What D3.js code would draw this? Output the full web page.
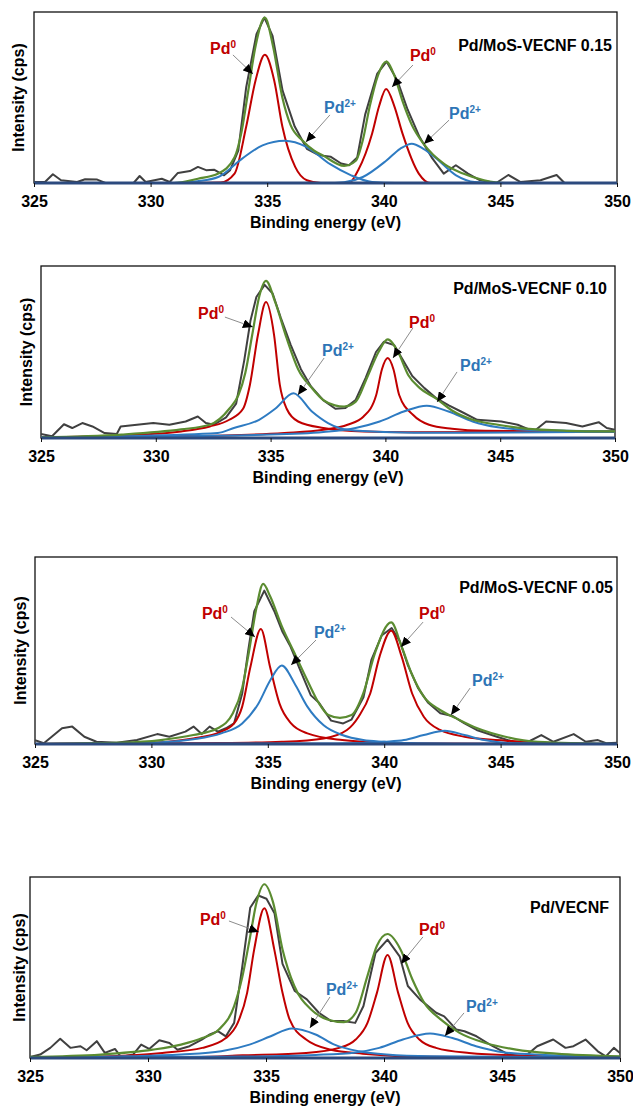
<!DOCTYPE html>
<html>
<head>
<meta charset="utf-8">
<script src="https://cdn.jsdelivr.net/npm/d3@7"></script>
<style>
  body { margin: 0; background: #fff; }
  text { font-family: "Liberation Sans", Arial, sans-serif; font-weight: bold; }
</style>
</head>
<body>
<div id="chart"></div>
<script>
// x axis
var xTicks = [325, 330, 335, 340, 345, 350];
var sampleNames = ['Pd/MoS-VECNF 0.15', 'Pd/MoS-VECNF 0.10', 'Pd/MoS-VECNF 0.05', 'Pd/VECNF'];
var background = [[325, 0], [350, 0]];

// ---- Pd/MoS-VECNF 0.15 ----
var raw015 = [[325, 0.6], [325.47, 0.6], [325.81, 5.1], [326.16, 1.6], [326.85, 0.6], [327.19, 2.2], [327.71, 2], [328.06, 0],
  [329.27, 0], [329.53, 4.1], [329.79, 0.6], [330.48, 2.5], [330.82, 0.6], [331.17, 5.9], [331.69, 7], [332.03, 9.4],
  [332.38, 7.5], [332.72, 7.8], [333.15, 4.5], [333.41, 7.5], [333.76, 19], [334.1, 56], [334.54, 87], [334.88, 96.7],
  [335.23, 86], [335.66, 54], [336.18, 33], [336.7, 20], [337.21, 16.3], [337.73, 15.3], [338.17, 11.4], [338.51, 10.4],
  [338.86, 15], [339.2, 40], [339.72, 64], [340.12, 71], [340.58, 60], [341.02, 43], [341.53, 27], [342.05, 15],
  [342.57, 5.5], [343.09, 10.4], [343.61, 5.5], [344.13, 1.6], [344.82, 0], [345.34, 4.7], [345.85, 0.6], [346.72, 1.6],
  [347.41, 4.7], [347.75, 0], [348.45, 0], [350, 0]];
var fit015 = [[325, 0], [331, 0], [332.03, 2.5], [332.9, 5.5], [333.6, 15], [333.9, 30], [334.2, 55], [334.5, 80],
  [334.9, 96.7], [335.25, 80], [335.65, 50], [336.0, 34], [336.5, 25], [337.0, 19], [337.4, 16], [338.3, 10], [338.8, 13],
  [339.1, 25], [339.4, 45], [339.75, 63], [340.1, 71], [340.45, 63], [340.8, 48], [341.2, 34], [341.7, 23], [342.6, 11],
  [343.4, 5.5], [344.3, 1.6], [345.2, 0], [350, 0]];
var pd0a015 = [[325, 0], [331, 0], [333.0, 0.3], [333.6, 5.5], [334.1, 33], [334.5, 60], [334.9, 75], [335.3, 60],
  [335.65, 33], [336.2, 9.4], [336.7, 1.6], [337.3, 0], [350, 0]];
var pd0b015 = [[325, 0], [338.5, 0], [338.9, 7.5], [339.5, 29], [339.8, 45], [340.1, 55], [340.45, 45], [340.8, 29],
  [341.5, 5.5], [342.0, 0], [350, 0]];
var pd2a015 = [[325, 0], [331, 0], [332.0, 1], [332.9, 3.5], [333.9, 14], [334.8, 22], [335.75, 24.7], [336.7, 21],
  [337.7, 11], [338.6, 4.5], [339.5, 0.6], [340.5, 0], [350, 0]];
var pd2b015 = [[325, 0], [337.5, 0], [338.3, 0.5], [339.1, 3.5], [340.1, 13], [340.7, 20], [341.2, 23], [341.7, 20],
  [342.2, 15], [343.1, 4.5], [343.9, 0.6], [345, 0], [350, 0]];
// annotations: label position, arrow start, arrow tip (eV, intensity)
var notes015 = [
  {sup: '0', kind: 'pd0', lx: 332.55, ly: 79, x1: 333.53, y1: 74.9, x2: 334.39, y2: 63.7},
  {sup: '0', kind: 'pd0', lx: 341.12, ly: 74.9, x1: 341.25, y1: 69, x2: 340.35, y2: 56.1},
  {sup: '2+', kind: 'pd2', lx: 337.44, ly: 44.4, x1: 337.69, y1: 39.8, x2: 336.66, y2: 24},
  {sup: '2+', kind: 'pd2', lx: 342.8, ly: 40.9, x1: 342.8, y1: 36.8, x2: 341.72, y2: 22.8}];

// ---- Pd/MoS-VECNF 0.10 ----
var raw010 = [[325, 2.3], [325.48, 1], [326.0, 8], [326.36, 5.8], [326.8, 8.7], [327.24, 6.7], [327.77, 2.9], [328.3, 2.3],
  [328.47, 6.7], [329.18, 7.7], [329.89, 8.7], [330.59, 7.7], [331.3, 9.6], [331.83, 12.5], [332.18, 8.7], [332.53, 7.7],
  [333.06, 12], [333.5, 20], [333.85, 45], [334.12, 68], [334.38, 82], [334.74, 89], [335.09, 84], [335.44, 70],
  [335.88, 54], [336.32, 40], [336.76, 30], [337.29, 22], [337.82, 17], [338.26, 17.5], [338.7, 22], [339.14, 35],
  [339.59, 50], [339.94, 56], [340.38, 54], [340.82, 44], [341.17, 36], [341.7, 29], [342.23, 23], [342.76, 19],
  [343.29, 15.4], [344.0, 10.6], [345.05, 9.6], [345.76, 7.7], [346.46, 3.8], [347.0, 9.6], [347.87, 8.7], [348.58, 6.7],
  [349.29, 9.2], [349.64, 5.8], [350, 4.8]];
var fit010 = [[325, 0.4], [328.5, 2], [331.1, 5], [332.35, 7.7], [333.2, 17], [333.6, 25], [333.9, 38], [334.2, 60],
  [334.5, 82], [334.8, 91.3], [335.2, 79], [335.7, 58], [336.2, 40], [336.8, 29], [337.3, 22], [337.8, 19], [338.2, 18.3],
  [338.7, 21], [339.2, 35], [339.7, 50], [340.1, 57.3], [340.55, 50], [341.0, 36.5], [341.5, 29], [342.2, 23], [342.9, 16],
  [343.8, 10.6], [344.9, 7.7], [346.1, 5.4], [347.9, 4.2], [350, 3.8]];
var pd0a010 = [[325, 0.4], [328.5, 1.5], [331.1, 3.8], [332.35, 6.7], [333.2, 10.6], [333.8, 17], [334.1, 31], [334.45, 60],
  [334.8, 79], [335.15, 60], [335.4, 31], [335.7, 17], [336.2, 9.6], [337.3, 5.8], [339.05, 3.8], [341, 3.4], [350, 3.6]];
var pd0b010 = [[325, 0.4], [330, 1], [333, 1.5], [335.6, 2.9], [337.3, 4.8], [338.35, 7.7], [339.05, 12.5], [339.6, 25],
  [339.85, 40], [340.1, 46.5], [340.35, 40], [340.6, 25], [341.2, 13.5], [341.9, 7.7], [342.9, 5.4], [344.35, 4.2], [350, 3.8]];
var pd2a010 = [[325, 0.3], [328.5, 1], [332.7, 2.9], [333.4, 5.8], [334.5, 10.6], [335.2, 17], [336.0, 26], [336.8, 15.4],
  [337.5, 8.7], [338.35, 4.8], [339.9, 3.5], [342.6, 3], [350, 3.6]];
var pd2b010 = [[325, 0.3], [335, 2], [337.3, 3.5], [338.7, 5.8], [339.75, 9.6], [340.8, 15.4], [341.8, 18.8], [342.75, 15.4],
  [343.8, 9.6], [344.9, 6.2], [346.1, 4.8], [347.9, 4.2], [350, 3.8]];
var notes010 = [
  {sup: '0', kind: 'pd0', lx: 331.84, ly: 72.7, x1: 333.01, y1: 70.3, x2: 334.23, y2: 64.5},
  {sup: '0', kind: 'pd0', lx: 341.03, ly: 67.4, x1: 341.2, y1: 64, x2: 340.33, y2: 46.5},
  {sup: '2+', kind: 'pd2', lx: 337.24, ly: 51.2, x1: 337.33, y1: 46.5, x2: 336.19, y2: 25},
  {sup: '2+', kind: 'pd2', lx: 343.25, ly: 42.4, x1: 343.12, y1: 38.4, x2: 342.25, y2: 20.9}];

// ---- Pd/MoS-VECNF 0.05 ----
var raw005 = [[325, 2.1], [325.38, 0.4], [326.16, 8.4], [326.6, 9.3], [327.12, 3.9], [327.64, 1.2], [328.51, 0.7], [329.38, 2.1],
  [330.25, 5.3], [330.77, 3.9], [331.46, 6.6], [331.81, 9.3], [332.16, 5.3], [332.5, 9.3], [332.85, 6.6], [333.2, 8.4],
  [333.55, 11], [333.9, 27], [334.16, 50], [334.42, 71], [334.85, 82], [335.28, 71], [335.63, 60], [335.98, 52],
  [336.41, 39], [336.85, 26], [337.2, 22], [337.72, 12.5], [338.24, 11], [338.59, 13], [339.11, 25], [339.45, 45],
  [339.89, 58], [340.32, 62], [340.67, 55], [341.02, 42], [341.45, 30], [341.89, 22], [342.41, 16.4], [342.93, 15],
  [343.45, 11], [343.97, 7.5], [344.84, 3.9], [345.54, 1.2], [346.06, 0.4], [346.75, 4.8], [347.27, 1.2], [348.14, 5.3],
  [348.66, 1.2], [349.18, 2.1], [349.53, 0.4], [350, 0.7]];
var fit005 = [[325, 0], [328.7, 0.7], [330.4, 2.1], [331.8, 4.8], [332.85, 8.4], [333.5, 16.4], [333.9, 30], [334.2, 50],
  [334.5, 72], [334.8, 85.6], [335.1, 79], [335.6, 63], [336.15, 48.5], [336.7, 34], [337.2, 21.7], [337.6, 15.5],
  [338.1, 14], [338.6, 15.5], [339.1, 27], [339.6, 48.5], [340.3, 65], [340.75, 52], [341.2, 37], [341.7, 25.3],
  [342.4, 18.2], [343.1, 13.7], [344.0, 8.4], [345.2, 3.9], [346.6, 1.2], [350, 0]];
var pd0a005 = [[325, 0], [329.5, 0.5], [331.8, 3], [333.0, 6.6], [333.55, 11], [333.9, 20], [334.25, 41], [334.7, 61.5],
  [335.1, 41], [335.5, 21.7], [336.0, 11], [336.7, 5.7], [338.2, 2.1], [340, 0.7], [342, 0.3], [350, 0]];
var pd0b005 = [[325, 0], [333, 0.5], [335.6, 1.2], [337.4, 3], [338.4, 7.5], [338.9, 14.6], [339.4, 27], [339.8, 46.7],
  [340.3, 60.6], [340.75, 46.7], [341.2, 27], [341.7, 14.6], [342.4, 7.5], [343.45, 3.9], [345.2, 1.8], [347.6, 0.4], [350, 0]];
var pd2a005 = [[325, 0], [330.3, 0.8], [331.8, 2.5], [333.0, 5.7], [333.9, 11], [334.6, 21.7], [335.1, 34], [335.6, 42],
  [336.15, 32.4], [336.7, 20], [337.4, 10], [338.2, 4.8], [339.1, 2.1], [340.0, 1.2], [341, 0.5], [343, 0.2], [350, 0]];
var pd2b005 = [[325, 0], [338, 0.3], [340.0, 1.2], [340.85, 2.1], [341.7, 4.8], [342.6, 7.1], [343.45, 4.8], [344.3, 2.1],
  [345.5, 0.4], [350, 0]];
var notes005 = [
  {sup: '0', kind: 'pd0', lx: 332.17, ly: 70, x1: 333.42, y1: 67.9, x2: 334.45, y2: 57.2},
  {sup: '0', kind: 'pd0', lx: 341.5, ly: 70, x1: 341.67, y1: 65.2, x2: 340.72, y2: 51.9},
  {sup: '2+', kind: 'pd2', lx: 336.98, ly: 59.9, x1: 337.07, y1: 55.6, x2: 336.0, y2: 42.2},
  {sup: '2+', kind: 'pd2', lx: 343.77, ly: 34.2, x1: 343.69, y1: 29.9, x2: 342.87, y2: 15.5}];

// ---- Pd/VECNF ----
var rawVE = [[325, 0.6], [325.43, 1.9], [325.86, 5.6], [326.28, 10.6], [326.71, 5.6], [327.14, 6.5], [327.4, 4.3], [327.83, 9.3],
  [328.17, 2.8], [328.6, 5], [328.85, 0.6], [329.37, 1.9], [329.71, 7.4], [330.05, 5], [330.48, 9.8], [330.91, 8.3],
  [331.25, 4.6], [331.76, 6.5], [332.28, 10.2], [332.62, 13], [332.96, 14.8], [333.3, 12], [333.65, 19.4], [333.99, 50],
  [334.33, 83], [334.67, 89.8], [335.02, 88], [335.36, 80], [335.7, 52], [336.22, 37], [336.73, 32.4], [337.24, 25],
  [337.76, 20.4], [338.27, 20.4], [338.78, 19.4], [339.13, 28.7], [339.64, 58], [340.15, 65.4], [340.67, 56], [341.01, 39.8],
  [341.52, 32.4], [342.21, 25], [342.55, 23], [343.07, 15.7], [343.41, 14.8], [343.92, 12], [344.61, 6.5], [345.29, 1.9],
  [345.98, 0.9], [346.49, 6.5], [347.17, 10.2], [347.69, 5.6], [348.03, 6.5], [348.54, 10.2], [349.06, 3.7], [349.4, 0.9],
  [349.74, 5.6], [350, 2.8]];
var fitVE = [[325, 0.6], [328, 1.9], [330.2, 4.6], [331.4, 7.4], [332.3, 11], [333.0, 15.7], [333.65, 28.7], [334.0, 45],
  [334.3, 65], [334.6, 86], [334.93, 96], [335.3, 86], [335.7, 60], [336.2, 39.8], [336.9, 26.9], [337.6, 21.3], [338.3, 19.8],
  [338.8, 25], [339.3, 45.4], [339.7, 62], [340.15, 68.5], [340.7, 60], [341.2, 43.5], [341.7, 30.6], [342.4, 21.3],
  [343.2, 13.9], [344.3, 8.3], [345.6, 4.6], [347.3, 2.4], [350, 0.9]];
var pd0aVE = [[325, 0.3], [328, 0.8], [330.6, 2.8], [332.3, 5.6], [333.3, 11], [333.8, 19.4], [334.2, 36], [334.5, 60],
  [334.93, 82.8], [335.35, 60], [335.7, 36], [336.0, 21.3], [336.7, 10.2], [337.75, 4.6], [339.1, 2.4], [341, 1], [344, 0.5], [350, 0.2]];
var pd0bVE = [[325, 0.1], [332, 0.6], [334, 1.5], [336.7, 2.8], [338.1, 5.6], [338.8, 10.2], [339.3, 19.4], [339.7, 36],
  [340.15, 56.9], [340.6, 36], [341.0, 19.4], [341.5, 10.2], [342.2, 5.6], [343.6, 2.8], [346, 1.3], [350, 0.6]];
var pd2aVE = [[325, 0.3], [329, 0.9], [331.4, 1.9], [333.1, 3.7], [334.3, 7.4], [335.2, 12], [336.1, 16.3], [337.1, 13],
  [337.9, 7.4], [338.95, 3.7], [340.1, 1.9], [342, 0.9], [350, 0.3]];
var pd2bVE = [[325, 0.2], [334, 0.8], [337.1, 1.7], [338.8, 3.1], [339.8, 5.6], [340.8, 10.2], [341.95, 13.5], [342.9, 11],
  [343.9, 6.5], [345.1, 3.1], [346.8, 1.7], [350, 0.7]];
var notesVE = [
  {sup: '0', kind: 'pd0', lx: 332.2, ly: 76.8, x1: 333.43, y1: 75.7, x2: 334.7, y2: 69.6},
  {sup: '0', kind: 'pd0', lx: 341.48, ly: 71.3, x1: 341.65, y1: 66.9, x2: 340.72, y2: 52},
  {sup: '2+', kind: 'pd2', lx: 337.54, ly: 38.1, x1: 337.71, y1: 33.7, x2: 336.86, y2: 16.6},
  {sup: '2+', kind: 'pd2', lx: 343.47, ly: 28.7, x1: 343.39, y1: 24.9, x2: 342.58, y2: 12.2}];

var datasets = [
  {raw: raw015, fit: fit015, pd0: [pd0a015, pd0b015], pd2: [pd2a015, pd2b015], notes: notes015},
  {raw: raw010, fit: fit010, pd0: [pd0a010, pd0b010], pd2: [pd2a010, pd2b010], notes: notes010},
  {raw: raw005, fit: fit005, pd0: [pd0a005, pd0b005], pd2: [pd2a005, pd2b005], notes: notes005},
  {raw: rawVE, fit: fitVE, pd0: [pd0aVE, pd0bVE], pd2: [pd2aVE, pd2bVE], notes: notesVE}];

// panel frames in pixels
var panels = [
  {left: 34, right: 617, top: 12, bottom: 183, ylabX: 18, titleX: 612, titleY: 45},
  {left: 41, right: 615, top: 266, bottom: 438, ylabX: 26, titleX: 607, titleY: 288},
  {left: 35, right: 617, top: 557, bottom: 744, ylabX: 20, titleX: 613, titleY: 587},
  {left: 30, right: 620, top: 877, bottom: 1058, ylabX: 19, titleX: 609, titleY: 907}];

var colors = {raw: '#404040', fit: '#5B8C31', pd0: '#C00000', pd2: '#2E7BC2', base: '#2C4A7E',
  pd0Text: '#C00000', pd2Text: '#2E75B6'};

var svg = d3.select('#chart').append('svg')
    .attr('width', 633)
    .attr('height', 1107)
    .style('background', '#fff');

var defs = svg.append('defs');
defs.append('marker')
    .attr('id', 'head')
    .attr('viewBox', '0 0 10 9')
    .attr('refX', 10)
    .attr('refY', 4.5)
    .attr('markerWidth', 10)
    .attr('markerHeight', 9)
    .attr('markerUnits', 'userSpaceOnUse')
    .attr('orient', 'auto')
    .append('path')
    .attr('d', 'M0,0L10,4.5L0,9Z')
    .attr('fill', '#000');

panels.forEach(function (p, i) {
    var data = datasets[i];
    var x = d3.scaleLinear().domain([325, 350]).range([p.left, p.right]);
    var y = d3.scaleLinear().domain([0, 100]).range([p.bottom, p.top]);
    var g = svg.append('g').attr('class', 'panel');

    defs.append('clipPath').attr('id', 'clip' + i)
        .append('rect')
        .attr('x', p.left).attr('y', p.top)
        .attr('width', p.right - p.left).attr('height', p.bottom - p.top + 2);

    var line = d3.line().x(function (d) { return x(d[0]); }).y(function (d) { return y(d[1]); });
    var smooth = d3.line().curve(d3.curveMonotoneX).x(function (d) { return x(d[0]); }).y(function (d) { return y(d[1]); });

    // frame
    g.append('rect')
        .attr('x', p.left).attr('y', p.top)
        .attr('width', p.right - p.left).attr('height', p.bottom - p.top)
        .attr('fill', 'none').attr('stroke', '#111').attr('stroke-width', 1.3);

    var plot = g.append('g').attr('clip-path', 'url(#clip' + i + ')');
    plot.append('path').datum(data.raw).attr('d', line)
        .attr('fill', 'none').attr('stroke', colors.raw).attr('stroke-width', 2).attr('stroke-linejoin', 'round');
    data.pd0.forEach(function (c) {
        plot.append('path').datum(c).attr('d', smooth)
            .attr('fill', 'none').attr('stroke', colors.pd0).attr('stroke-width', 2);
    });
    data.pd2.forEach(function (c) {
        plot.append('path').datum(c).attr('d', smooth)
            .attr('fill', 'none').attr('stroke', colors.pd2).attr('stroke-width', 2);
    });
    plot.append('path').datum(data.fit).attr('d', smooth)
        .attr('fill', 'none').attr('stroke', colors.fit).attr('stroke-width', 2.2);
    plot.append('path').datum(background).attr('d', line)
        .attr('fill', 'none').attr('stroke', colors.base).attr('stroke-width', 3);

    // x axis
    var ax = g.append('g')
        .attr('transform', 'translate(0,' + p.bottom + ')')
        .call(d3.axisBottom(x).tickValues(xTicks).tickSize(4).tickPadding(9).tickFormat(d3.format('d')));
    ax.select('.domain').remove();
    ax.selectAll('line').attr('stroke', '#111');
    ax.selectAll('text')
        .attr('fill', '#000')
        .style('font-size', '16px')
        .style('font-family', '"Liberation Sans", Arial, sans-serif')
        .style('font-weight', 'bold');

    g.append('text')
        .attr('x', (p.left + p.right) / 2).attr('y', p.bottom + 45)
        .attr('text-anchor', 'middle')
        .style('font-size', '16px')
        .text('Binding energy (eV)');

    g.append('text')
        .attr('transform', 'translate(' + (p.ylabX + 6) + ',' + (p.top + p.bottom) / 2 + ') rotate(-90)')
        .attr('text-anchor', 'middle')
        .style('font-size', '16px')
        .text('Intensity (cps)');

    // sample name
    g.append('text')
        .attr('x', p.titleX).attr('y', p.titleY + 6)
        .attr('text-anchor', 'end')
        .style('font-size', '16px')
        .text(sampleNames[i]);

    // peak labels with arrows
    data.notes.forEach(function (n) {
        g.append('line')
            .attr('x1', x(n.x1)).attr('y1', y(n.y1))
            .attr('x2', x(n.x2)).attr('y2', y(n.y2))
            .attr('stroke', '#7f7f7f').attr('stroke-width', 0.9)
            .attr('marker-end', 'url(#head)');
        var t = g.append('text')
            .attr('x', x(n.lx)).attr('y', y(n.ly) + 6)
            .attr('fill', n.kind === 'pd0' ? colors.pd0Text : colors.pd2Text)
            .style('font-size', '16px');
        t.append('tspan').text('Pd');
        t.append('tspan').attr('dy', -6).style('font-size', '10px').text(n.sup);
    });
});
</script>
</body>
</html>
